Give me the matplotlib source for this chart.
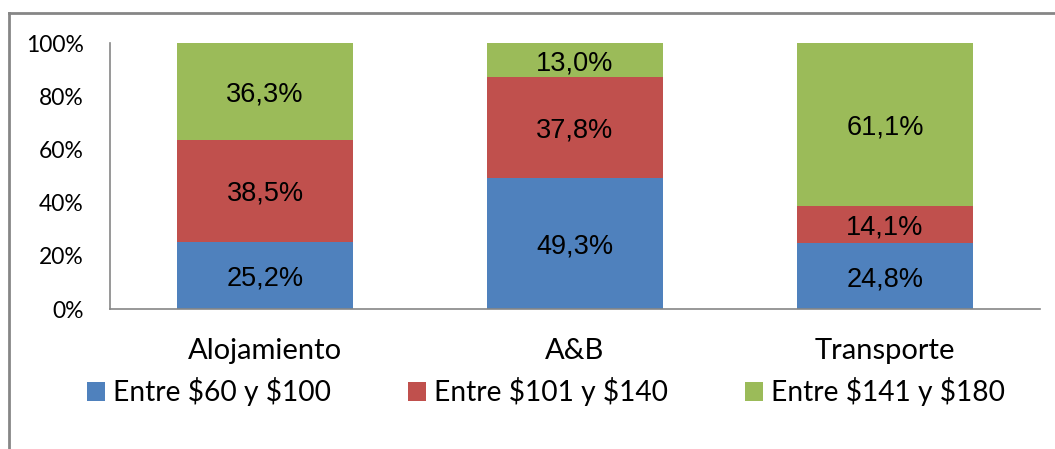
import numpy as np
import matplotlib.pyplot as plt
from matplotlib.lines import Line2D

# datos del gráfico (porcentajes por categoría)
categorias = ["Alojamiento", "A&B", "Transporte"]
series = [r"Entre \$60 y \$100", r"Entre \$101 y \$140", r"Entre \$141 y \$180"]
rango_60_100 = [25.2, 49.3, 24.8]
rango_101_140 = [38.5, 37.8, 14.1]
rango_141_180 = [36.3, 13.0, 61.1]
colores = ["#4F81BD", "#C0504D", "#9BBB59"]

valores = [rango_60_100, rango_101_140, rango_141_180]

fig = plt.figure(figsize=(10.55, 4.49), dpi=100)
ax = fig.add_axes([110 / 1055, 1 - 309 / 449, 930 / 1055, 266 / 449])

x = np.arange(len(categorias))
base = np.zeros(len(categorias))
for nombre, vals, color in zip(series, valores, colores):
    vals = np.array(vals)
    ax.bar(x, vals, bottom=base, width=0.57, color=color, label=nombre)
    for xi, b, v in zip(x, base, vals):
        ax.text(xi, b + v / 2, f"{v:.1f}%".replace(".", ","),
                ha="center", va="center_baseline", fontsize=19.5,
                family="Liberation Sans", color="black")
    base = base + vals

ax.set_xlim(-0.5, 2.5)
ax.set_ylim(0, 100)
ax.set_yticks(range(0, 101, 20))
ax.set_yticklabels([f"{t}%" for t in range(0, 101, 20)], family="Lato", fontsize=16.5)
ax.set_xticks(x)
ax.set_xticklabels(categorias, family="Lato", fontsize=21)
ax.tick_params(axis="y", length=0, pad=19)
ax.tick_params(axis="x", length=0, pad=21)
for lado in ["top", "right"]:
    ax.spines[lado].set_visible(False)
for lado in ["left", "bottom"]:
    ax.spines[lado].set_color("#868686")
    ax.spines[lado].set_linewidth(1.2)

ley = fig.legend(loc="center", bbox_to_anchor=(0.5175, 1 - 392 / 449), ncol=3,
                 frameon=False, prop={"family": "Lato", "size": 20.25},
                 handlelength=0.64, handleheight=0.64, handletextpad=0.28,
                 columnspacing=2.75)

# borde exterior del gráfico (solo visible a la izquierda y arriba)
fig.add_artist(Line2D([9 / 1055, 9 / 1055], [0, 1 - 13 / 449],
                      transform=fig.transFigure, color="#868686", lw=2))
fig.add_artist(Line2D([9 / 1055, 1], [1 - 13 / 449, 1 - 13 / 449],
                      transform=fig.transFigure, color="#868686", lw=2))

fig.savefig("out.png", dpi=100)
